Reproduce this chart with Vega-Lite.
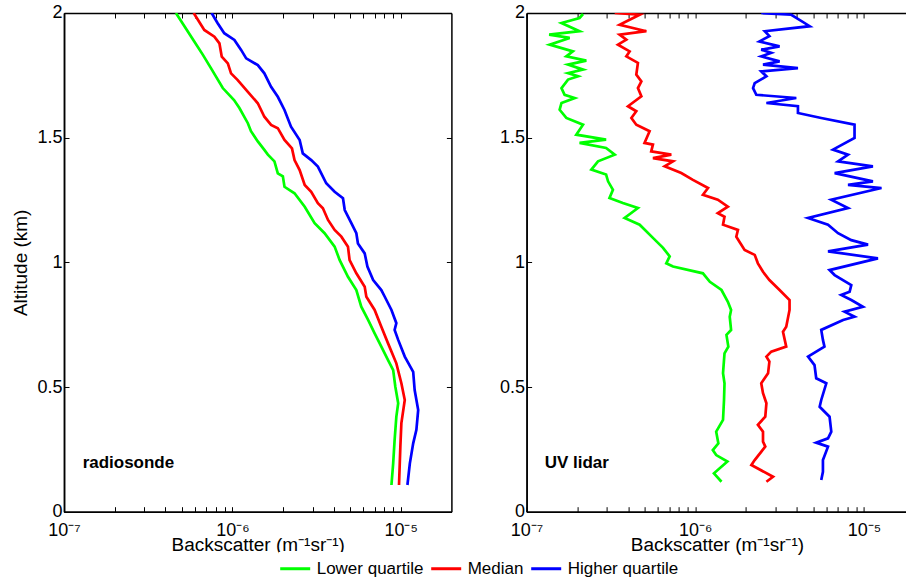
{
  "$schema": "https://vega.github.io/schema/vega-lite/v6.json",
  "padding": {"left": 11, "top": 4, "right": 0, "bottom": 0},
  "bounds": "flush",
  "spacing": 74.6,
  "config": {
    "font": "Liberation Sans",
    "view": {"stroke": null},
    "axis": {"domainColor": "black", "domainWidth": 1.5, "tickColor": "black", "tickWidth": 1, "labelColor": "black", "titleColor": "black", "labelFontSize": 18, "titleFontSize": 19, "titleFontWeight": "normal", "grid": false, "labelFont": "Liberation Sans", "titleFont": "Liberation Sans"},
    "legend": {"orient": "none", "direction": "horizontal", "legendX": 214.7, "legendY": 539, "title": null, "symbolType": "stroke", "symbolStrokeWidth": 3, "symbolSize": 900, "labelFontSize": 17, "labelFont": "Liberation Sans", "labelColor": "black", "labelOffset": 5, "columnPadding": 1, "fillColor": "white", "padding": 0}
  },
  "datasets": {
    "radiosonde": [
      {"series": "Lower quartile", "alt": 2.0, "bs": 4.62e-7},
      {"series": "Lower quartile", "alt": 1.886, "bs": 5.94e-7},
      {"series": "Lower quartile", "alt": 1.833, "bs": 6.67e-7},
      {"series": "Lower quartile", "alt": 1.779, "bs": 7.46e-7},
      {"series": "Lower quartile", "alt": 1.699, "bs": 8.77e-7},
      {"series": "Lower quartile", "alt": 1.651, "bs": 1.023e-6},
      {"series": "Lower quartile", "alt": 1.619, "bs": 1.101e-6},
      {"series": "Lower quartile", "alt": 1.558, "bs": 1.236e-6},
      {"series": "Lower quartile", "alt": 1.526, "bs": 1.29e-6},
      {"series": "Lower quartile", "alt": 1.485, "bs": 1.416e-6},
      {"series": "Lower quartile", "alt": 1.451, "bs": 1.549e-6},
      {"series": "Lower quartile", "alt": 1.432, "bs": 1.625e-6},
      {"series": "Lower quartile", "alt": 1.405, "bs": 1.778e-6},
      {"series": "Lower quartile", "alt": 1.357, "bs": 1.862e-6},
      {"series": "Lower quartile", "alt": 1.345, "bs": 1.995e-6},
      {"series": "Lower quartile", "alt": 1.303, "bs": 2.04e-6},
      {"series": "Lower quartile", "alt": 1.277, "bs": 2.34e-6},
      {"series": "Lower quartile", "alt": 1.223, "bs": 2.69e-6},
      {"series": "Lower quartile", "alt": 1.157, "bs": 3.08e-6},
      {"series": "Lower quartile", "alt": 1.117, "bs": 3.53e-6},
      {"series": "Lower quartile", "alt": 1.063, "bs": 4.05e-6},
      {"series": "Lower quartile", "alt": 1.009, "bs": 4.34e-6},
      {"series": "Lower quartile", "alt": 0.942, "bs": 4.86e-6},
      {"series": "Lower quartile", "alt": 0.889, "bs": 5.45e-6},
      {"series": "Lower quartile", "alt": 0.822, "bs": 5.83e-6},
      {"series": "Lower quartile", "alt": 0.769, "bs": 6.4e-6},
      {"series": "Lower quartile", "alt": 0.715, "bs": 7.0e-6},
      {"series": "Lower quartile", "alt": 0.662, "bs": 7.67e-6},
      {"series": "Lower quartile", "alt": 0.608, "bs": 8.41e-6},
      {"series": "Lower quartile", "alt": 0.568, "bs": 9.02e-6},
      {"series": "Lower quartile", "alt": 0.501, "bs": 9.29e-6},
      {"series": "Lower quartile", "alt": 0.435, "bs": 9.66e-6},
      {"series": "Lower quartile", "alt": 0.381, "bs": 9.42e-6},
      {"series": "Lower quartile", "alt": 0.288, "bs": 9.2e-6},
      {"series": "Lower quartile", "alt": 0.194, "bs": 9.02e-6},
      {"series": "Lower quartile", "alt": 0.107, "bs": 8.81e-6},
      {"series": "Median", "alt": 2.0, "bs": 5.89e-7},
      {"series": "Median", "alt": 1.932, "bs": 6.81e-7},
      {"series": "Median", "alt": 1.905, "bs": 7.82e-7},
      {"series": "Median", "alt": 1.878, "bs": 8.38e-7},
      {"series": "Median", "alt": 1.825, "bs": 8.65e-7},
      {"series": "Median", "alt": 1.798, "bs": 9.4e-7},
      {"series": "Median", "alt": 1.758, "bs": 9.82e-7},
      {"series": "Median", "alt": 1.731, "bs": 1.076e-6},
      {"series": "Median", "alt": 1.684, "bs": 1.236e-6},
      {"series": "Median", "alt": 1.638, "bs": 1.416e-6},
      {"series": "Median", "alt": 1.584, "bs": 1.549e-6},
      {"series": "Median", "alt": 1.551, "bs": 1.698e-6},
      {"series": "Median", "alt": 1.538, "bs": 1.862e-6},
      {"series": "Median", "alt": 1.491, "bs": 2.04e-6},
      {"series": "Median", "alt": 1.457, "bs": 2.26e-6},
      {"series": "Median", "alt": 1.41, "bs": 2.34e-6},
      {"series": "Median", "alt": 1.37, "bs": 2.51e-6},
      {"series": "Median", "alt": 1.31, "bs": 2.69e-6},
      {"series": "Median", "alt": 1.283, "bs": 2.94e-6},
      {"series": "Median", "alt": 1.237, "bs": 3.22e-6},
      {"series": "Median", "alt": 1.217, "bs": 3.45e-6},
      {"series": "Median", "alt": 1.17, "bs": 3.7e-6},
      {"series": "Median", "alt": 1.13, "bs": 4.05e-6},
      {"series": "Median", "alt": 1.103, "bs": 4.44e-6},
      {"series": "Median", "alt": 1.063, "bs": 4.86e-6},
      {"series": "Median", "alt": 1.009, "bs": 4.97e-6},
      {"series": "Median", "alt": 0.956, "bs": 5.45e-6},
      {"series": "Median", "alt": 0.902, "bs": 6.11e-6},
      {"series": "Median", "alt": 0.862, "bs": 6.25e-6},
      {"series": "Median", "alt": 0.809, "bs": 7.0e-6},
      {"series": "Median", "alt": 0.742, "bs": 7.67e-6},
      {"series": "Median", "alt": 0.675, "bs": 8.41e-6},
      {"series": "Median", "alt": 0.595, "bs": 9.42e-6},
      {"series": "Median", "alt": 0.515, "bs": 1.009e-5},
      {"series": "Median", "alt": 0.448, "bs": 1.057e-5},
      {"series": "Median", "alt": 0.355, "bs": 1.009e-5},
      {"series": "Median", "alt": 0.261, "bs": 9.95e-6},
      {"series": "Median", "alt": 0.107, "bs": 9.77e-6},
      {"series": "Higher quartile", "alt": 2.0, "bs": 7.53e-7},
      {"series": "Higher quartile", "alt": 1.959, "bs": 8.18e-7},
      {"series": "Higher quartile", "alt": 1.919, "bs": 8.95e-7},
      {"series": "Higher quartile", "alt": 1.892, "bs": 1.028e-6},
      {"series": "Higher quartile", "alt": 1.852, "bs": 1.127e-6},
      {"series": "Higher quartile", "alt": 1.818, "bs": 1.208e-6},
      {"series": "Higher quartile", "alt": 1.791, "bs": 1.416e-6},
      {"series": "Higher quartile", "alt": 1.758, "bs": 1.549e-6},
      {"series": "Higher quartile", "alt": 1.704, "bs": 1.698e-6},
      {"series": "Higher quartile", "alt": 1.664, "bs": 1.862e-6},
      {"series": "Higher quartile", "alt": 1.611, "bs": 2.04e-6},
      {"series": "Higher quartile", "alt": 1.544, "bs": 2.23e-6},
      {"series": "Higher quartile", "alt": 1.491, "bs": 2.51e-6},
      {"series": "Higher quartile", "alt": 1.437, "bs": 2.62e-6},
      {"series": "Higher quartile", "alt": 1.41, "bs": 2.94e-6},
      {"series": "Higher quartile", "alt": 1.384, "bs": 3.22e-6},
      {"series": "Higher quartile", "alt": 1.317, "bs": 3.61e-6},
      {"series": "Higher quartile", "alt": 1.283, "bs": 4.05e-6},
      {"series": "Higher quartile", "alt": 1.257, "bs": 4.54e-6},
      {"series": "Higher quartile", "alt": 1.21, "bs": 4.65e-6},
      {"series": "Higher quartile", "alt": 1.157, "bs": 5.09e-6},
      {"series": "Higher quartile", "alt": 1.117, "bs": 5.45e-6},
      {"series": "Higher quartile", "alt": 1.076, "bs": 5.57e-6},
      {"series": "Higher quartile", "alt": 1.036, "bs": 6.11e-6},
      {"series": "Higher quartile", "alt": 0.983, "bs": 6.34e-6},
      {"series": "Higher quartile", "alt": 0.929, "bs": 6.86e-6},
      {"series": "Higher quartile", "alt": 0.889, "bs": 7.67e-6},
      {"series": "Higher quartile", "alt": 0.862, "bs": 8.04e-6},
      {"series": "Higher quartile", "alt": 0.809, "bs": 8.81e-6},
      {"series": "Higher quartile", "alt": 0.756, "bs": 9.42e-6},
      {"series": "Higher quartile", "alt": 0.729, "bs": 9.2e-6},
      {"series": "Higher quartile", "alt": 0.689, "bs": 9.66e-6},
      {"series": "Higher quartile", "alt": 0.622, "bs": 1.057e-5},
      {"series": "Higher quartile", "alt": 0.561, "bs": 1.186e-5},
      {"series": "Higher quartile", "alt": 0.488, "bs": 1.21e-5},
      {"series": "Higher quartile", "alt": 0.408, "bs": 1.27e-5},
      {"series": "Higher quartile", "alt": 0.328, "bs": 1.239e-5},
      {"series": "Higher quartile", "alt": 0.274, "bs": 1.186e-5},
      {"series": "Higher quartile", "alt": 0.194, "bs": 1.133e-5},
      {"series": "Higher quartile", "alt": 0.107, "bs": 1.096e-5}
    ],
    "lidar": [
      {"series": "Lower quartile", "alt": 1.996, "bs": 2.16e-7},
      {"series": "Lower quartile", "alt": 1.98, "bs": 2.06e-7},
      {"series": "Lower quartile", "alt": 1.96, "bs": 1.61e-7},
      {"series": "Lower quartile", "alt": 1.927, "bs": 2.06e-7},
      {"series": "Lower quartile", "alt": 1.913, "bs": 1.36e-7},
      {"series": "Lower quartile", "alt": 1.9, "bs": 1.8e-7},
      {"series": "Lower quartile", "alt": 1.873, "bs": 1.37e-7},
      {"series": "Lower quartile", "alt": 1.846, "bs": 1.88e-7},
      {"series": "Lower quartile", "alt": 1.826, "bs": 1.72e-7},
      {"series": "Lower quartile", "alt": 1.809, "bs": 2.26e-7},
      {"series": "Lower quartile", "alt": 1.793, "bs": 1.76e-7},
      {"series": "Lower quartile", "alt": 1.773, "bs": 2.16e-7},
      {"series": "Lower quartile", "alt": 1.759, "bs": 1.76e-7},
      {"series": "Lower quartile", "alt": 1.746, "bs": 2.02e-7},
      {"series": "Lower quartile", "alt": 1.733, "bs": 1.76e-7},
      {"series": "Lower quartile", "alt": 1.699, "bs": 1.61e-7},
      {"series": "Lower quartile", "alt": 1.672, "bs": 1.68e-7},
      {"series": "Lower quartile", "alt": 1.659, "bs": 1.93e-7},
      {"series": "Lower quartile", "alt": 1.639, "bs": 1.61e-7},
      {"series": "Lower quartile", "alt": 1.612, "bs": 1.57e-7},
      {"series": "Lower quartile", "alt": 1.579, "bs": 1.72e-7},
      {"series": "Lower quartile", "alt": 1.552, "bs": 2.16e-7},
      {"series": "Lower quartile", "alt": 1.512, "bs": 1.97e-7},
      {"series": "Lower quartile", "alt": 1.492, "bs": 2.96e-7},
      {"series": "Lower quartile", "alt": 1.479, "bs": 2.06e-7},
      {"series": "Lower quartile", "alt": 1.459, "bs": 2.96e-7},
      {"series": "Lower quartile", "alt": 1.432, "bs": 3.33e-7},
      {"series": "Lower quartile", "alt": 1.405, "bs": 2.65e-7},
      {"series": "Lower quartile", "alt": 1.372, "bs": 2.42e-7},
      {"series": "Lower quartile", "alt": 1.352, "bs": 2.96e-7},
      {"series": "Lower quartile", "alt": 1.325, "bs": 3.04e-7},
      {"series": "Lower quartile", "alt": 1.291, "bs": 3.25e-7},
      {"series": "Lower quartile", "alt": 1.258, "bs": 3.1e-7},
      {"series": "Lower quartile", "alt": 1.238, "bs": 3.72e-7},
      {"series": "Lower quartile", "alt": 1.218, "bs": 4.57e-7},
      {"series": "Lower quartile", "alt": 1.178, "bs": 3.81e-7},
      {"series": "Lower quartile", "alt": 1.151, "bs": 4.68e-7},
      {"series": "Lower quartile", "alt": 1.098, "bs": 5.61e-7},
      {"series": "Lower quartile", "alt": 1.058, "bs": 6.44e-7},
      {"series": "Lower quartile", "alt": 1.024, "bs": 7.05e-7},
      {"series": "Lower quartile", "alt": 0.996, "bs": 6.73e-7},
      {"series": "Lower quartile", "alt": 0.983, "bs": 7.38e-7},
      {"series": "Lower quartile", "alt": 0.956, "bs": 1.11e-6},
      {"series": "Lower quartile", "alt": 0.922, "bs": 1.22e-6},
      {"series": "Lower quartile", "alt": 0.889, "bs": 1.43e-6},
      {"series": "Lower quartile", "alt": 0.842, "bs": 1.56e-6},
      {"series": "Lower quartile", "alt": 0.809, "bs": 1.63e-6},
      {"series": "Lower quartile", "alt": 0.782, "bs": 1.6e-6},
      {"series": "Lower quartile", "alt": 0.729, "bs": 1.63e-6},
      {"series": "Lower quartile", "alt": 0.709, "bs": 1.53e-6},
      {"series": "Lower quartile", "alt": 0.662, "bs": 1.57e-6},
      {"series": "Lower quartile", "alt": 0.635, "bs": 1.49e-6},
      {"series": "Lower quartile", "alt": 0.555, "bs": 1.46e-6},
      {"series": "Lower quartile", "alt": 0.515, "bs": 1.49e-6},
      {"series": "Lower quartile", "alt": 0.448, "bs": 1.48e-6},
      {"series": "Lower quartile", "alt": 0.368, "bs": 1.46e-6},
      {"series": "Lower quartile", "alt": 0.321, "bs": 1.33e-6},
      {"series": "Lower quartile", "alt": 0.274, "bs": 1.37e-6},
      {"series": "Lower quartile", "alt": 0.247, "bs": 1.27e-6},
      {"series": "Lower quartile", "alt": 0.227, "bs": 1.33e-6},
      {"series": "Lower quartile", "alt": 0.201, "bs": 1.55e-6},
      {"series": "Lower quartile", "alt": 0.154, "bs": 1.29e-6},
      {"series": "Lower quartile", "alt": 0.12, "bs": 1.43e-6},
      {"series": "Median", "alt": 2.0, "bs": 3.33e-7},
      {"series": "Median", "alt": 1.993, "bs": 4.68e-7},
      {"series": "Median", "alt": 1.973, "bs": 4.08e-7},
      {"series": "Median", "alt": 1.953, "bs": 3.56e-7},
      {"series": "Median", "alt": 1.927, "bs": 5.13e-7},
      {"series": "Median", "alt": 1.913, "bs": 3.56e-7},
      {"series": "Median", "alt": 1.893, "bs": 3.9e-7},
      {"series": "Median", "alt": 1.873, "bs": 3.48e-7},
      {"series": "Median", "alt": 1.846, "bs": 4.08e-7},
      {"series": "Median", "alt": 1.826, "bs": 3.9e-7},
      {"series": "Median", "alt": 1.8, "bs": 4.57e-7},
      {"series": "Median", "alt": 1.753, "bs": 4.47e-7},
      {"series": "Median", "alt": 1.726, "bs": 4.79e-7},
      {"series": "Median", "alt": 1.699, "bs": 4.57e-7},
      {"series": "Median", "alt": 1.666, "bs": 4.79e-7},
      {"series": "Median", "alt": 1.626, "bs": 3.99e-7},
      {"series": "Median", "alt": 1.606, "bs": 4.47e-7},
      {"series": "Median", "alt": 1.579, "bs": 4.18e-7},
      {"series": "Median", "alt": 1.552, "bs": 4.47e-7},
      {"series": "Median", "alt": 1.526, "bs": 5.36e-7},
      {"series": "Median", "alt": 1.479, "bs": 5.0e-7},
      {"series": "Median", "alt": 1.472, "bs": 5.61e-7},
      {"series": "Median", "alt": 1.445, "bs": 5.48e-7},
      {"series": "Median", "alt": 1.432, "bs": 7.21e-7},
      {"series": "Median", "alt": 1.418, "bs": 5.61e-7},
      {"series": "Median", "alt": 1.405, "bs": 7.38e-7},
      {"series": "Median", "alt": 1.385, "bs": 6.58e-7},
      {"series": "Median", "alt": 1.358, "bs": 8.26e-7},
      {"series": "Median", "alt": 1.331, "bs": 9.68e-7},
      {"series": "Median", "alt": 1.298, "bs": 1.19e-6},
      {"series": "Median", "alt": 1.271, "bs": 1.11e-6},
      {"series": "Median", "alt": 1.251, "bs": 1.36e-6},
      {"series": "Median", "alt": 1.223, "bs": 1.56e-6},
      {"series": "Median", "alt": 1.197, "bs": 1.36e-6},
      {"series": "Median", "alt": 1.183, "bs": 1.49e-6},
      {"series": "Median", "alt": 1.151, "bs": 1.46e-6},
      {"series": "Median", "alt": 1.13, "bs": 1.79e-6},
      {"series": "Median", "alt": 1.103, "bs": 1.75e-6},
      {"series": "Median", "alt": 1.05, "bs": 1.96e-6},
      {"series": "Median", "alt": 1.03, "bs": 2.25e-6},
      {"series": "Median", "alt": 0.996, "bs": 2.35e-6},
      {"series": "Median", "alt": 0.962, "bs": 2.52e-6},
      {"series": "Median", "alt": 0.929, "bs": 2.75e-6},
      {"series": "Median", "alt": 0.889, "bs": 3.16e-6},
      {"series": "Median", "alt": 0.849, "bs": 3.62e-6},
      {"series": "Median", "alt": 0.809, "bs": 3.62e-6},
      {"series": "Median", "alt": 0.742, "bs": 3.46e-6},
      {"series": "Median", "alt": 0.722, "bs": 3.31e-6},
      {"series": "Median", "alt": 0.662, "bs": 3.46e-6},
      {"series": "Median", "alt": 0.642, "bs": 2.82e-6},
      {"series": "Median", "alt": 0.622, "bs": 2.64e-6},
      {"series": "Median", "alt": 0.602, "bs": 2.75e-6},
      {"series": "Median", "alt": 0.555, "bs": 2.7e-6},
      {"series": "Median", "alt": 0.515, "bs": 2.46e-6},
      {"series": "Median", "alt": 0.475, "bs": 2.52e-6},
      {"series": "Median", "alt": 0.435, "bs": 2.64e-6},
      {"series": "Median", "alt": 0.381, "bs": 2.6e-6},
      {"series": "Median", "alt": 0.348, "bs": 2.35e-6},
      {"series": "Median", "alt": 0.321, "bs": 2.52e-6},
      {"series": "Median", "alt": 0.281, "bs": 2.52e-6},
      {"series": "Median", "alt": 0.261, "bs": 2.6e-6},
      {"series": "Median", "alt": 0.207, "bs": 2.25e-6},
      {"series": "Median", "alt": 0.187, "bs": 2.15e-6},
      {"series": "Median", "alt": 0.14, "bs": 2.89e-6},
      {"series": "Median", "alt": 0.12, "bs": 2.64e-6},
      {"series": "Higher quartile", "alt": 2.0, "bs": 2.46e-6},
      {"series": "Higher quartile", "alt": 1.993, "bs": 3.71e-6},
      {"series": "Higher quartile", "alt": 1.947, "bs": 4.77e-6},
      {"series": "Higher quartile", "alt": 1.927, "bs": 2.58e-6},
      {"series": "Higher quartile", "alt": 1.907, "bs": 2.75e-6},
      {"series": "Higher quartile", "alt": 1.886, "bs": 2.4e-6},
      {"series": "Higher quartile", "alt": 1.866, "bs": 3.16e-6},
      {"series": "Higher quartile", "alt": 1.853, "bs": 2.46e-6},
      {"series": "Higher quartile", "alt": 1.84, "bs": 2.82e-6},
      {"series": "Higher quartile", "alt": 1.826, "bs": 2.46e-6},
      {"series": "Higher quartile", "alt": 1.806, "bs": 3.16e-6},
      {"series": "Higher quartile", "alt": 1.793, "bs": 2.52e-6},
      {"series": "Higher quartile", "alt": 1.779, "bs": 4.06e-6},
      {"series": "Higher quartile", "alt": 1.766, "bs": 2.46e-6},
      {"series": "Higher quartile", "alt": 1.746, "bs": 2.64e-6},
      {"series": "Higher quartile", "alt": 1.719, "bs": 2.25e-6},
      {"series": "Higher quartile", "alt": 1.699, "bs": 2.2e-6},
      {"series": "Higher quartile", "alt": 1.672, "bs": 2.3e-6},
      {"series": "Higher quartile", "alt": 1.659, "bs": 3.97e-6},
      {"series": "Higher quartile", "alt": 1.639, "bs": 2.64e-6},
      {"series": "Higher quartile", "alt": 1.626, "bs": 4.06e-6},
      {"series": "Higher quartile", "alt": 1.599, "bs": 4.06e-6},
      {"series": "Higher quartile", "alt": 1.579, "bs": 5.58e-6},
      {"series": "Higher quartile", "alt": 1.552, "bs": 8.79e-6},
      {"series": "Higher quartile", "alt": 1.499, "bs": 8.79e-6},
      {"series": "Higher quartile", "alt": 1.452, "bs": 6.55e-6},
      {"series": "Higher quartile", "alt": 1.432, "bs": 8.04e-6},
      {"series": "Higher quartile", "alt": 1.405, "bs": 7.02e-6},
      {"series": "Higher quartile", "alt": 1.385, "bs": 1.13e-5},
      {"series": "Higher quartile", "alt": 1.358, "bs": 6.7e-6},
      {"series": "Higher quartile", "alt": 1.325, "bs": 1.13e-5},
      {"series": "Higher quartile", "alt": 1.311, "bs": 8.04e-6},
      {"series": "Higher quartile", "alt": 1.298, "bs": 1.27e-5},
      {"series": "Higher quartile", "alt": 1.251, "bs": 6.4e-6},
      {"series": "Higher quartile", "alt": 1.218, "bs": 8.04e-6},
      {"series": "Higher quartile", "alt": 1.178, "bs": 4.66e-6},
      {"series": "Higher quartile", "alt": 1.151, "bs": 6.12e-6},
      {"series": "Higher quartile", "alt": 1.117, "bs": 7.02e-6},
      {"series": "Higher quartile", "alt": 1.089, "bs": 8.41e-6},
      {"series": "Higher quartile", "alt": 1.071, "bs": 1.057e-5},
      {"series": "Higher quartile", "alt": 1.044, "bs": 6.12e-6},
      {"series": "Higher quartile", "alt": 1.016, "bs": 1.21e-5},
      {"series": "Higher quartile", "alt": 0.969, "bs": 6.25e-6},
      {"series": "Higher quartile", "alt": 0.949, "bs": 6.7e-6},
      {"series": "Higher quartile", "alt": 0.909, "bs": 8.41e-6},
      {"series": "Higher quartile", "alt": 0.882, "bs": 8.22e-6},
      {"series": "Higher quartile", "alt": 0.869, "bs": 7.33e-6},
      {"series": "Higher quartile", "alt": 0.849, "bs": 8.41e-6},
      {"series": "Higher quartile", "alt": 0.822, "bs": 9.86e-6},
      {"series": "Higher quartile", "alt": 0.802, "bs": 7.67e-6},
      {"series": "Higher quartile", "alt": 0.782, "bs": 8.79e-6},
      {"series": "Higher quartile", "alt": 0.769, "bs": 7.52e-6},
      {"series": "Higher quartile", "alt": 0.729, "bs": 5.58e-6},
      {"series": "Higher quartile", "alt": 0.689, "bs": 5.71e-6},
      {"series": "Higher quartile", "alt": 0.662, "bs": 5.83e-6},
      {"series": "Higher quartile", "alt": 0.622, "bs": 4.66e-6},
      {"series": "Higher quartile", "alt": 0.588, "bs": 5.09e-6},
      {"series": "Higher quartile", "alt": 0.535, "bs": 5.21e-6},
      {"series": "Higher quartile", "alt": 0.515, "bs": 5.98e-6},
      {"series": "Higher quartile", "alt": 0.448, "bs": 5.58e-6},
      {"series": "Higher quartile", "alt": 0.421, "bs": 5.46e-6},
      {"series": "Higher quartile", "alt": 0.381, "bs": 6.25e-6},
      {"series": "Higher quartile", "alt": 0.321, "bs": 6.4e-6},
      {"series": "Higher quartile", "alt": 0.294, "bs": 6.12e-6},
      {"series": "Higher quartile", "alt": 0.277, "bs": 5.21e-6},
      {"series": "Higher quartile", "alt": 0.261, "bs": 6.12e-6},
      {"series": "Higher quartile", "alt": 0.207, "bs": 5.71e-6},
      {"series": "Higher quartile", "alt": 0.16, "bs": 5.71e-6},
      {"series": "Higher quartile", "alt": 0.127, "bs": 5.58e-6}
    ]
  },
  "hconcat": [
    {
      "width": 387.4,
      "height": 498.7,
      "layer": [
        {
          "data": {"name": "radiosonde"},
          "mark": {"type": "line", "strokeWidth": 2.7, "clip": true},
          "encoding": {
            "x": {"field": "bs", "type": "quantitative", "scale": {"type": "log", "domain": [1e-7, 2e-5], "nice": false},
              "axis": {"orient": "bottom", "values": [1e-7, 1e-6, 1e-5], "ticks": false,
                "labelExpr": "datum.value < 1.5e-7 ? '10⁻⁷' : abs(datum.value - 1e-6) < 1e-9 ? '10⁻⁶' : '10⁻⁵'",
                "labelPadding": 10, "labelFlush": false, "labelOverlap": false, "title": "Backscatter (m⁻¹sr⁻¹)", "titlePadding": -4}},
            "y": {"field": "alt", "type": "quantitative", "scale": {"domain": [0, 2], "nice": false},
              "axis": {"orient": "left", "values": [0, 0.5, 1, 1.5, 2], "format": "~g", "ticks": false, "labelPadding": 2, "title": "Altitude (km)", "titlePadding": 6}},
            "color": {"field": "series", "type": "nominal", "scale": {"domain": ["Lower quartile", "Median", "Higher quartile"], "range": ["#00ff00", "#ff0000", "#0000ff"]}},
            "order": {"field": "alt", "type": "quantitative"}
          }
        },
        {
          "data": {"values": [{}]},
          "mark": {"type": "text", "align": "left", "baseline": "middle", "fontWeight": "bold", "fontSize": 17, "font": "Liberation Sans", "color": "black"},
          "encoding": {
            "x": {"datum": 1.29e-7, "type": "quantitative", "scale": {"type": "log", "domain": [1e-7, 2e-5], "nice": false},
              "axis": {"orient": "top", "values": [1e-7, 2e-7, 3e-7, 4e-7, 5e-7, 6e-7, 7e-7, 8e-7, 9e-7, 1e-6, 2e-6, 3e-6, 4e-6, 5e-6, 6e-6, 7e-6, 8e-6, 9e-6, 1e-5], "labels": false, "title": null, "tickSize": -5}},
            "y": {"datum": 0.195, "type": "quantitative", "scale": {"domain": [0, 2], "nice": false},
              "axis": {"orient": "right", "values": [0, 0.5, 1, 1.5, 2], "labels": false, "title": null, "tickSize": -5}},
            "text": {"value": "radiosonde"}
          }
        },
        {
          "data": {"values": [{}]},
          "mark": {"type": "text", "text": ""},
          "encoding": {
            "x": {"datum": 1e-6, "type": "quantitative", "scale": {"type": "log", "domain": [1e-7, 2e-5], "nice": false},
              "axis": {"orient": "bottom", "values": [1e-7, 2e-7, 3e-7, 4e-7, 5e-7, 6e-7, 7e-7, 8e-7, 9e-7, 1e-6, 2e-6, 3e-6, 4e-6, 5e-6, 6e-6, 7e-6, 8e-6, 9e-6, 1e-5], "labels": false, "title": null, "tickSize": -5}},
            "y": {"datum": 1, "type": "quantitative", "scale": {"domain": [0, 2], "nice": false},
              "axis": {"orient": "left", "values": [0, 0.5, 1, 1.5, 2], "labels": false, "title": null, "tickSize": -5}}
          }
        }
      ],
      "resolve": {"axis": {"x": "independent", "y": "independent"}}
    },
    {
      "width": 380.7,
      "height": 498.7,
      "layer": [
        {
          "data": {"name": "lidar"},
          "mark": {"type": "line", "strokeWidth": 2.7, "clip": true},
          "encoding": {
            "x": {"field": "bs", "type": "quantitative", "scale": {"type": "log", "domain": [1e-7, 1.806e-5], "nice": false},
              "axis": {"orient": "bottom", "values": [1e-7, 1e-6, 1e-5], "ticks": false,
                "labelExpr": "datum.value < 1.5e-7 ? '10⁻⁷' : abs(datum.value - 1e-6) < 1e-9 ? '10⁻⁶' : '10⁻⁵'",
                "labelPadding": 10, "labelFlush": false, "labelOverlap": false, "title": "Backscatter (m⁻¹sr⁻¹)", "titlePadding": -4}},
            "y": {"field": "alt", "type": "quantitative", "scale": {"domain": [0, 2], "nice": false},
              "axis": {"orient": "left", "values": [0, 0.5, 1, 1.5, 2], "format": "~g", "ticks": false, "labelPadding": 2, "title": null}},
            "color": {"field": "series", "type": "nominal", "scale": {"domain": ["Lower quartile", "Median", "Higher quartile"], "range": ["#00ff00", "#ff0000", "#0000ff"]}},
            "order": {"field": "alt", "type": "quantitative"}
          }
        },
        {
          "data": {"values": [{}]},
          "mark": {"type": "text", "align": "left", "baseline": "middle", "fontWeight": "bold", "fontSize": 17, "font": "Liberation Sans", "color": "black"},
          "encoding": {
            "x": {"datum": 1.28e-7, "type": "quantitative", "scale": {"type": "log", "domain": [1e-7, 1.806e-5], "nice": false},
              "axis": {"orient": "top", "values": [1e-7, 2e-7, 3e-7, 4e-7, 5e-7, 6e-7, 7e-7, 8e-7, 9e-7, 1e-6, 2e-6, 3e-6, 4e-6, 5e-6, 6e-6, 7e-6, 8e-6, 9e-6, 1e-5], "labels": false, "title": null, "tickSize": -5}},
            "y": {"datum": 0.194, "type": "quantitative", "scale": {"domain": [0, 2], "nice": false}, "axis": null},
            "text": {"value": "UV lidar"}
          }
        },
        {
          "data": {"values": [{}]},
          "mark": {"type": "text", "text": ""},
          "encoding": {
            "x": {"datum": 1e-6, "type": "quantitative", "scale": {"type": "log", "domain": [1e-7, 1.806e-5], "nice": false},
              "axis": {"orient": "bottom", "values": [1e-7, 2e-7, 3e-7, 4e-7, 5e-7, 6e-7, 7e-7, 8e-7, 9e-7, 1e-6, 2e-6, 3e-6, 4e-6, 5e-6, 6e-6, 7e-6, 8e-6, 9e-6, 1e-5], "labels": false, "title": null, "tickSize": -5}},
            "y": {"datum": 1, "type": "quantitative", "scale": {"domain": [0, 2], "nice": false},
              "axis": {"orient": "left", "values": [0, 0.5, 1, 1.5, 2], "labels": false, "title": null, "tickSize": -5}}
          }
        }
      ],
      "resolve": {"axis": {"x": "independent", "y": "independent"}}
    }
  ]
}
